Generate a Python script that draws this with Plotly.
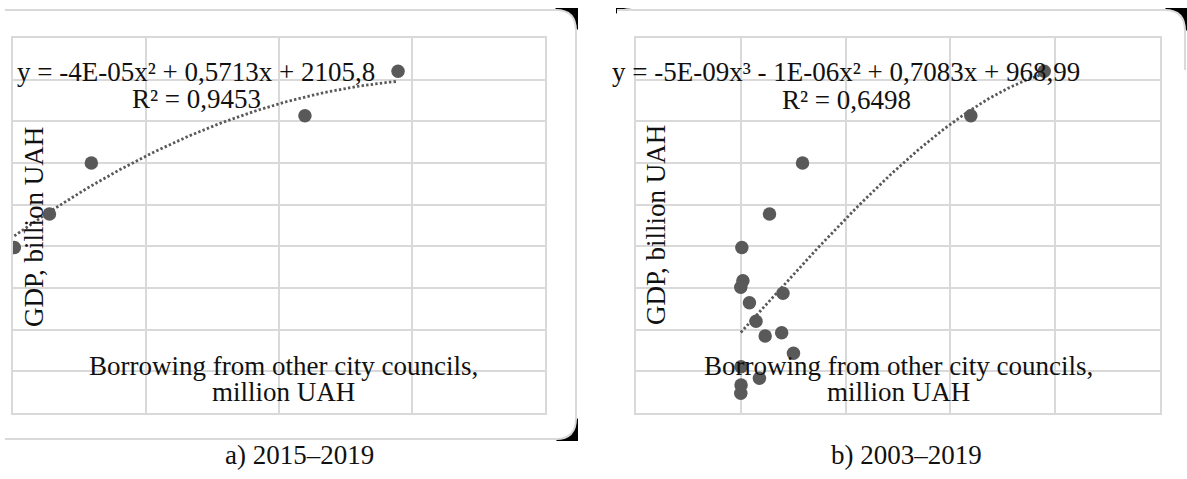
import numpy as np
import plotly.graph_objects as go

W, H = 1187, 479

# ---- data ----
years = list(range(2003, 2020))
borrowing = [0, 5, 355, 5, 1005, 780, 465, 290, 165, 805, 0, 40, 20, 548, 1178, 4390, 5790]
gdp = [236, 336, 416, 556, 716, 964, 924, 1100, 1324, 1436, 1508, 1588, 1985, 2388, 3000, 3566, 4100]

left_x = borrowing[-5:]
left_y = gdp[-5:]

eq_left = "y = -4E-05x² + 0,5713x + 2105,8"
r2_left = "R² = 0,9453"
eq_right = "y = -5E-09x³ - 1E-06x² + 0,7083x + 968,99"
r2_right = "R² = 0,6498"
y_title = "GDP, billion UAH"
x_title_1 = "Borrowing from other city councils,"
x_title_2 = "million UAH"
caption_a = "a) 2015–2019"
caption_b = "b) 2003–2019"

MARK = "#595959"
GRID = "#d9d9d9"
FONT = "Liberation Serif"
FS = 27


def px(x):
    return x / W


def py(y):
    return 1 - y / H


def trend(xs, ys, deg):
    c = np.polyfit(xs, ys, deg)
    xx = np.linspace(min(xs), max(xs), 200)
    return xx, np.polyval(c, xx)


fig = go.Figure()

DOT = dict(color=MARK, width=2.8, dash="2.4px,2.2px")

fig.add_trace(go.Scatter(x=left_x, y=left_y, mode="markers",
                         marker=dict(size=13.5, color=MARK), xaxis="x", yaxis="y",
                         showlegend=False, hoverinfo="skip"))
tx, ty = trend(left_x, left_y, 2)
fig.add_trace(go.Scatter(x=tx, y=ty, mode="lines", line=DOT,
                         xaxis="x", yaxis="y", showlegend=False, hoverinfo="skip"))

fig.add_trace(go.Scatter(x=borrowing, y=gdp, mode="markers",
                         marker=dict(size=13.5, color=MARK), xaxis="x2", yaxis="y2",
                         showlegend=False, hoverinfo="skip"))
tx2, ty2 = trend(borrowing, gdp, 3)
fig.add_trace(go.Scatter(x=tx2, y=ty2, mode="lines", line=DOT,
                         xaxis="x2", yaxis="y2", showlegend=False, hoverinfo="skip"))

ax_common = dict(showticklabels=False, ticks="", showgrid=True, gridcolor=GRID,
                 gridwidth=2, zeroline=False, showline=True, linecolor=GRID,
                 linewidth=2, mirror=True, fixedrange=True)

ydom = [py(413), py(38)]
fig.update_layout(
    width=W, height=H, margin=dict(l=0, r=0, t=0, b=0),
    paper_bgcolor="white", plot_bgcolor="white",
    xaxis=dict(domain=[px(13), px(545)], range=[0, 8000], dtick=2000, anchor="y", **ax_common),
    yaxis=dict(domain=ydom, range=[0, 4500], dtick=500, anchor="x", **ax_common),
    xaxis2=dict(domain=[px(636), px(1160)], range=[-2000, 8000], dtick=2000, anchor="y2", **ax_common),
    yaxis2=dict(domain=ydom, range=[0, 4500], dtick=500, anchor="x2", **ax_common),
)

ann = []


def text(t, x, y, size=FS, angle=0):
    ann.append(dict(text=t, x=px(x), y=py(y), xref="paper", yref="paper",
                    showarrow=False, xanchor="center", yanchor="middle",
                    textangle=angle, font=dict(family=FONT, size=size, color="#111111")))


text(eq_left, 196, 72)
text(r2_left, 196, 99)
text(eq_right, 846, 72)
text(r2_right, 846, 100)
text(y_title, 34, 227, angle=-90)
text(y_title, 656, 225, angle=-90)
text(x_title_1, 283, 366)
text(x_title_2, 283, 392)
text(x_title_1, 898, 366)
text(x_title_2, 898, 392)
text(caption_a, 300, 455)
text(caption_b, 906, 455)
fig.update_layout(annotations=ann)

shapes = []
# left frame black corner wedges
shapes.append(dict(type="path", xref="paper", yref="paper", layer="below",
                   path=f"M {px(555)},{py(8)} L {px(578)},{py(8)} L {px(578)},{py(30)} Z",
                   fillcolor="black", line=dict(width=0)))
shapes.append(dict(type="path", xref="paper", yref="paper", layer="below",
                   path=f"M {px(578)},{py(418)} L {px(578)},{py(441)} L {px(556)},{py(441)} Z",
                   fillcolor="black", line=dict(width=0)))
# left frame (white rounded panel)
shapes.append(dict(type="path", xref="paper", yref="paper", layer="below",
                   path=(f"M {px(5)},{py(10)} L {px(556)},{py(10)} "
                         f"Q {px(576)},{py(10)} {px(576)},{py(31)} "
                         f"L {px(576)},{py(418)} Q {px(576)},{py(439)} {px(556)},{py(439)} "
                         f"L {px(5)},{py(439)} Z"),
                   fillcolor="white", line=dict(width=0)))
shapes.append(dict(type="path", xref="paper", yref="paper", layer="below",
                   path=(f"M {px(5)},{py(10)} L {px(556)},{py(10)} "
                         f"Q {px(576)},{py(10)} {px(576)},{py(31)} "
                         f"L {px(576)},{py(418)} Q {px(576)},{py(439)} {px(556)},{py(439)} "
                         f"L {px(5)},{py(439)}"),
                   line=dict(color=GRID, width=2)))
# right frame wedges
shapes.append(dict(type="path", xref="paper", yref="paper", layer="below",
                   path=f"M {px(1165)},{py(8)} L {px(1187)},{py(8)} L {px(1187)},{py(31)} Z",
                   fillcolor="black", line=dict(width=0)))
shapes.append(dict(type="path", xref="paper", yref="paper", layer="below",
                   path=f"M {px(616)},{py(14)} Q {px(619)},{py(8)} {px(632)},{py(8)} L {px(616)},{py(8)} Z",
                   fillcolor="black", line=dict(width=0)))
shapes.append(dict(type="path", xref="paper", yref="paper", layer="below",
                   path=(f"M {px(617)},{py(10)} L {px(1165)},{py(10)} "
                         f"Q {px(1185)},{py(10)} {px(1185)},{py(31)} L {px(1185)},{py(479)} "
                         f"L {px(617)},{py(479)} Z"),
                   fillcolor="white", line=dict(width=0)))
shapes.append(dict(type="path", xref="paper", yref="paper", layer="below",
                   path=(f"M {px(617)},{py(10)} L {px(1165)},{py(10)} "
                         f"Q {px(1185)},{py(10)} {px(1185)},{py(31)} L {px(1185)},{py(70)}"),
                   line=dict(color=GRID, width=2)))
fig.update_layout(shapes=shapes)

fig.write_html("out.html", config={"displayModeBar": False, "staticPlot": True},
               post_script="document.body.style.margin='0';document.body.style.overflow='hidden';")
